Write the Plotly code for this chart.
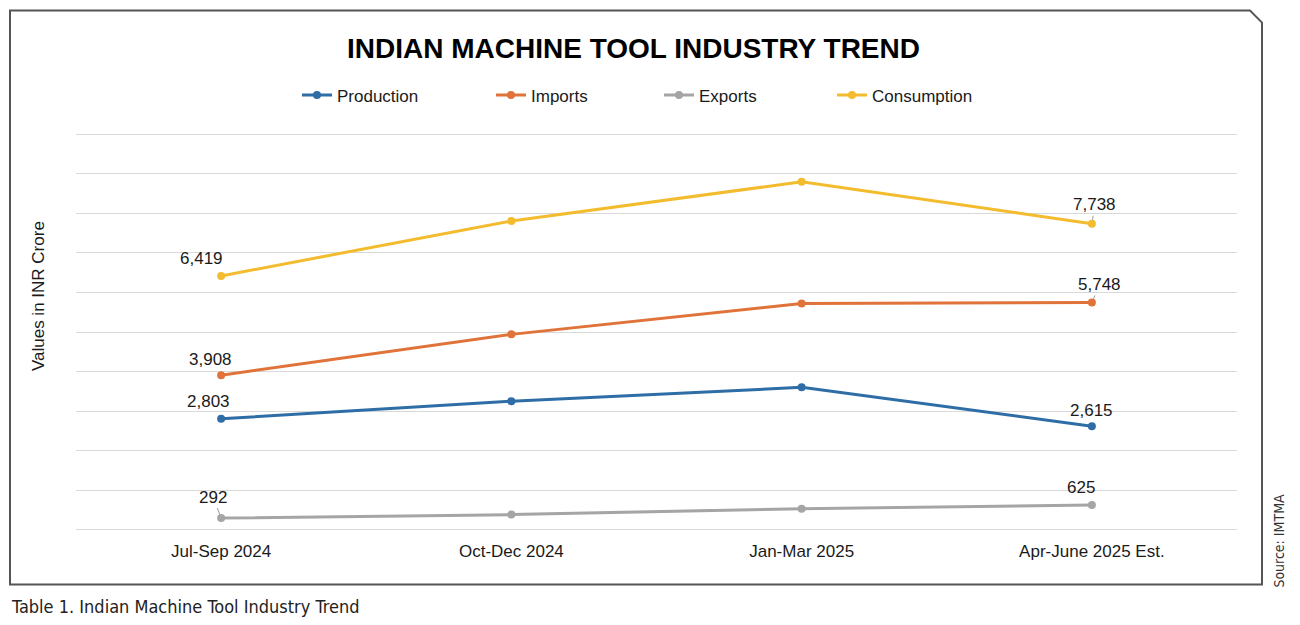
import plotly.graph_objects as go

categories = ["Jul-Sep 2024", "Oct-Dec 2024", "Jan-Mar 2025", "Apr-June 2025 Est."]
production = [2803, 3250, 3600, 2615]
imports = [3908, 4940, 5720, 5748]
exports = [292, 380, 530, 625]
consumption = [6419, 7810, 8800, 7738]

series = [
    ("Production", production, "#2E6DA5"),
    ("Imports", imports, "#E0733A"),
    ("Exports", exports, "#A5A5A5"),
    ("Consumption", consumption, "#F3BC2F"),
]

OFF = 8  # page body margin
PAD = 60  # y-range padding (data units) so edge gridlines are drawn
UNIT_PX = 396 / 10000
L, R = 68, 71
T = 126 - PAD * UNIT_PX
B = 103 - PAD * UNIT_PX
W, H = 1300, 625
PW, PH = W - L - R, H - T - B

def px(x_page):
    return (x_page - OFF - L) / PW

def py(y_page):
    return (H - B - (y_page - OFF)) / PH

FONT = "Liberation Sans, Arial"
fig = go.Figure()
legend_names = ["legend", "legend2", "legend3", "legend4"]
legend_x = [303, 497, 665, 838]
for (name, vals, color), lg in zip(series, legend_names):
    fig.add_trace(go.Scatter(
        x=categories, y=vals, name=name, mode="lines+markers",
        line=dict(color=color, width=3), marker=dict(color=color, size=8),
        legend=lg, hoverinfo="skip",
    ))

# data labels: (series index, point index, dx, dy, leader)
label_specs = [
    (3, 0, -20, 17, False), (1, 0, -11, 16, False), (0, 0, -13, 17, False), (2, 0, -8, 21, True),
    (3, 3, 3, 19, True), (1, 3, 8, 18, True), (0, 3, 0, 16, False), (2, 3, -11, 17, False),
]
for si, pi, dx, dy, leader in label_specs:
    name, vals, color = series[si]
    v = vals[pi]
    if leader:
        fig.add_annotation(x=categories[pi], y=v, text=f"{v:,}", showarrow=True,
                           arrowhead=0, arrowwidth=1, arrowcolor="#9a9a9a",
                           ax=dx, ay=-dy, standoff=4,
                           font=dict(family=FONT, size=17, color="#1a1a1a"))
    else:
        fig.add_annotation(x=categories[pi], y=v, text=f"{v:,}", showarrow=False,
                           xshift=dx, yshift=dy,
                           font=dict(family=FONT, size=17, color="#1a1a1a"))

# frame with clipped corner
frame = (f"M {px(10)},{py(10)} L {px(1250)},{py(10)} L {px(1262)},{py(22)} "
         f"L {px(1262)},{py(585)} L {px(10)},{py(585)} Z")
fig.add_shape(type="path", xref="paper", yref="paper", path=frame,
              line=dict(color="#555555", width=2), layer="below")

fig.add_annotation(xref="paper", yref="paper", x=px(633), y=py(48), text="<b>INDIAN MACHINE TOOL INDUSTRY TREND</b>",
                   showarrow=False, xanchor="center", yanchor="middle",
                   font=dict(family=FONT, size=28, color="#000000"))
fig.add_annotation(xref="paper", yref="paper", x=px(38), y=py(296), text="Values in INR Crore",
                   showarrow=False, textangle=-90, xanchor="center", yanchor="middle",
                   font=dict(family=FONT, size=17, color="#1a1a1a"))
fig.add_annotation(xref="paper", yref="paper", x=px(1279), y=py(541), text="Source: IMTMA",
                   showarrow=False, textangle=-90, xanchor="center", yanchor="middle",
                   font=dict(family="DejaVu Sans Condensed, DejaVu Sans", size=14, color="#333333"))
fig.add_annotation(xref="paper", yref="paper", x=px(9), y=py(607), text="Table 1. Indian Machine Tool Industry Trend",
                   showarrow=False, xanchor="left", yanchor="middle",
                   font=dict(family="DejaVu Sans Condensed, DejaVu Sans", size=18, color="#222222"))

layout_legends = {}
for lg, lx in zip(legend_names, legend_x):
    layout_legends[lg] = dict(x=px(lx - 6), y=py(95), xanchor="left", yanchor="middle",
                              orientation="h", bgcolor="rgba(0,0,0,0)",
                              font=dict(family=FONT, size=17, color="#1a1a1a"),
                              itemwidth=30)

fig.update_layout(
    width=W, height=H, margin=dict(l=L, r=R, t=T, b=B),
    paper_bgcolor="white", plot_bgcolor="white",
    showlegend=True,
    xaxis=dict(showgrid=False, showline=False, ticks="", range=[-0.5, 3.5],
               ticklabelstandoff=7,
               tickfont=dict(family=FONT, size=17, color="#1a1a1a")),
    yaxis=dict(range=[-PAD, 10000 + PAD], tickvals=list(range(0, 10001, 1000)), showticklabels=False,
               gridcolor="#d9d9d9", gridwidth=1, zeroline=False, showline=False, ticks=""),
    **layout_legends,
)
fig.write_html("out.html")
